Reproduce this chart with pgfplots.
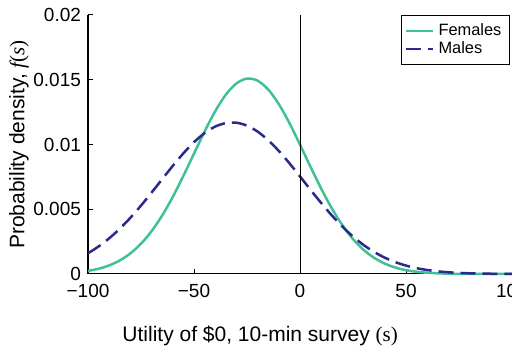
\documentclass[border=0pt]{standalone}
\usepackage{fontspec}
\setmainfont{Liberation Sans}
\newfontfamily\serifmath{Liberation Serif}
\usepackage{pgfplots}
\pgfplotsset{compat=1.18}
\definecolor{fem}{RGB}{64,192,150}
\definecolor{mal}{RGB}{42,42,140}
\begin{document}
\begin{tikzpicture}
\begin{axis}[
  scale only axis,
  width=212pt, height=129.5pt,
  xmin=-100, xmax=100, ymin=0, ymax=0.02,
  axis x line*=bottom, axis y line*=left,
  axis line style={line width=0.5pt},
  tick align=inside,
  major tick length=2.5pt,
  tick style={line width=0.5pt, black},
  xtick={-100,-50,0,50,100},
  xticklabels={−100,−50,0,50,100},
  ytick={0,0.005,0.01,0.015,0.02},
  yticklabels={0,0.005,0.01,0.015,0.02},
  scaled y ticks=false,
  ticklabel style={font=\fontsize{9.5}{10}\selectfont},
  xticklabel style={yshift=-1.5pt},
  xlabel={Utility of \$0, 10-min survey {\serifmath(s)}},
  ylabel={Probability density, {\serifmath\itshape f}{\serifmath(\itshape s\upshape)}},
  label style={font=\fontsize{10.5}{12}\selectfont},
  xlabel style={at={(axis description cs:0.406,0)}, anchor=north, yshift=-22.5pt},
  ylabel style={at={(axis description cs:0,0.5)}, anchor=south, yshift=26pt},
  legend style={at={(axis description cs:0.995,1)}, anchor=north east,
    font=\fontsize{8.2}{9}\selectfont, draw=black, line width=0.5pt,
    inner sep=2pt, row sep=-2.5pt},
  legend cell align=left,
  legend image post style={line width=1.25pt},
  legend image code/.code={\draw[#1] (0pt,0pt) -- (13.5pt,0pt);},
  clip=false,
]
\addplot[fem, line width=1.25pt, smooth] coordinates {
(-100,0.000240) (-95,0.000406) (-90,0.000664) (-85,0.001046) (-80,0.001592)
(-75,0.002337) (-70,0.003309) (-65,0.004521) (-60,0.005959) (-55,0.007579)
(-50,0.009297) (-45,0.011005) (-40,0.012566) (-35,0.013845) (-30,0.014715)
(-25,0.015089) (-20,0.014928) (-15,0.014247) (-10,0.013119) (-5,0.011654)
(0,0.009989) (5,0.008260) (10,0.006590) (15,0.005071) (20,0.003766)
(25,0.002697) (30,0.001863) (35,0.001243) (40,0.000800) (45,0.000496)
(50,0.000297) (55,0.000172) (60,0.000096) (65,0.000051) (70,0.000027)
(75,0.000013) (80,0.000006) (85,0.000003) (90,0.000001) (95,0.0000005) (100,0.0000002)
};
\addlegendentry{Females}
\addplot[mal, line width=1.25pt, smooth, dash pattern=on 7.5pt off 3.5pt] coordinates {
(-100,0.001602) (-95,0.002123) (-90,0.002754) (-85,0.003496) (-80,0.004344)
(-75,0.005284) (-70,0.006289) (-65,0.007325) (-60,0.008351) (-55,0.009320)
(-50,0.010179) (-45,0.010880) (-40,0.011383) (-35,0.011655) (-30,0.011680)
(-25,0.011456) (-20,0.010998) (-15,0.010332) (-10,0.009502) (-5,0.008552)
(0,0.007532) (5,0.006494) (10,0.005481) (15,0.004525) (20,0.003657)
(25,0.002893) (30,0.002240) (35,0.001698) (40,0.001260) (45,0.000914)
(50,0.000649) (55,0.000451) (60,0.000307) (65,0.000205) (70,0.000133)
(75,0.000085) (80,0.000053) (85,0.000033) (90,0.000019) (95,0.000011) (100,0.000007)
};
\addlegendentry{Males}
\draw[black, line width=0.5pt] (axis cs:0,0) -- (axis cs:0,0.02);
\end{axis}
\pgfresetboundingbox
\useasboundingbox ([xshift=-44pt,yshift=-38.5pt]current axis.south west) rectangle ([yshift=7.5pt]current axis.north east);
\end{tikzpicture}
\end{document}
